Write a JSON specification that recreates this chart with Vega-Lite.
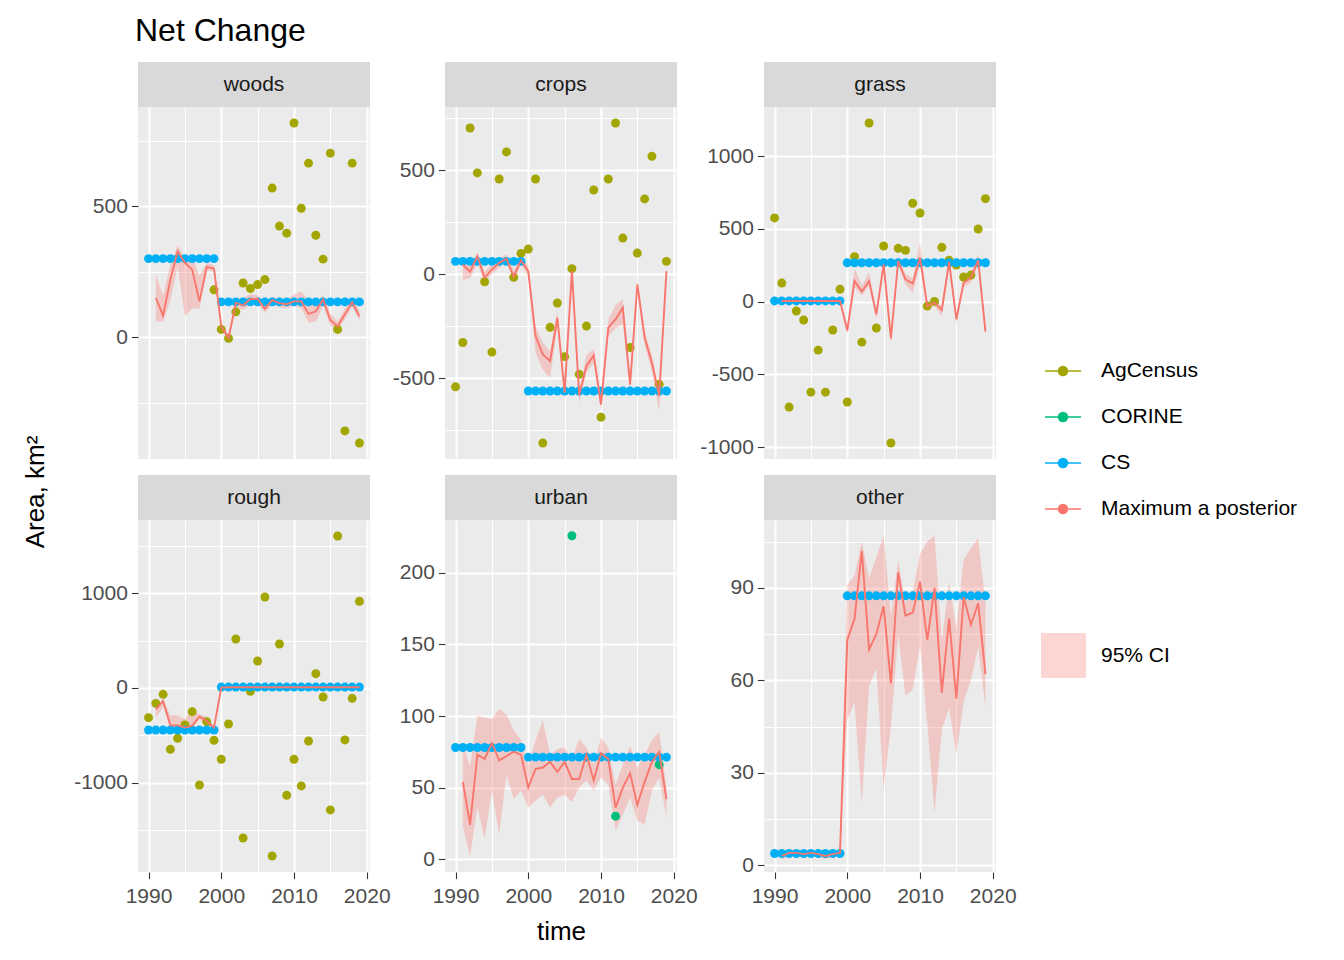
{
"$schema": "https://vega.github.io/schema/vega-lite/v6.json",
"background": "white",
"padding": {"left": 5, "top": 15, "right": 5, "bottom": 5},
"title": {"text": "Net Change", "anchor": "start", "frame": "group", "fontSize": 32, "fontWeight": "normal", "font": "Liberation Sans", "color": "#000000", "dx": 130, "offset": 14},
"data": {"values": [
{"panel":"woods","source":"AgCensus","time":1999,"value":181},
{"panel":"woods","source":"AgCensus","time":2000,"value":30},
{"panel":"woods","source":"AgCensus","time":2001,"value":-4},
{"panel":"woods","source":"AgCensus","time":2002,"value":97},
{"panel":"woods","source":"AgCensus","time":2003,"value":207},
{"panel":"woods","source":"AgCensus","time":2004,"value":186},
{"panel":"woods","source":"AgCensus","time":2005,"value":201},
{"panel":"woods","source":"AgCensus","time":2006,"value":220},
{"panel":"woods","source":"AgCensus","time":2007,"value":569},
{"panel":"woods","source":"AgCensus","time":2008,"value":424},
{"panel":"woods","source":"AgCensus","time":2009,"value":397},
{"panel":"woods","source":"AgCensus","time":2010,"value":817},
{"panel":"woods","source":"AgCensus","time":2011,"value":492},
{"panel":"woods","source":"AgCensus","time":2012,"value":664},
{"panel":"woods","source":"AgCensus","time":2013,"value":389},
{"panel":"woods","source":"AgCensus","time":2014,"value":298},
{"panel":"woods","source":"AgCensus","time":2015,"value":702},
{"panel":"woods","source":"AgCensus","time":2016,"value":30},
{"panel":"woods","source":"AgCensus","time":2017,"value":-357},
{"panel":"woods","source":"AgCensus","time":2018,"value":664},
{"panel":"woods","source":"AgCensus","time":2019,"value":-403},
{"panel":"woods","source":"CS","time":1990,"value":300},
{"panel":"woods","source":"CS","time":1991,"value":300},
{"panel":"woods","source":"CS","time":1992,"value":300},
{"panel":"woods","source":"CS","time":1993,"value":300},
{"panel":"woods","source":"CS","time":1994,"value":300},
{"panel":"woods","source":"CS","time":1995,"value":300},
{"panel":"woods","source":"CS","time":1996,"value":300},
{"panel":"woods","source":"CS","time":1997,"value":300},
{"panel":"woods","source":"CS","time":1998,"value":300},
{"panel":"woods","source":"CS","time":1999,"value":300},
{"panel":"woods","source":"CS","time":2000,"value":135},
{"panel":"woods","source":"CS","time":2001,"value":135},
{"panel":"woods","source":"CS","time":2002,"value":135},
{"panel":"woods","source":"CS","time":2003,"value":135},
{"panel":"woods","source":"CS","time":2004,"value":135},
{"panel":"woods","source":"CS","time":2005,"value":135},
{"panel":"woods","source":"CS","time":2006,"value":135},
{"panel":"woods","source":"CS","time":2007,"value":135},
{"panel":"woods","source":"CS","time":2008,"value":135},
{"panel":"woods","source":"CS","time":2009,"value":135},
{"panel":"woods","source":"CS","time":2010,"value":135},
{"panel":"woods","source":"CS","time":2011,"value":135},
{"panel":"woods","source":"CS","time":2012,"value":135},
{"panel":"woods","source":"CS","time":2013,"value":135},
{"panel":"woods","source":"CS","time":2014,"value":135},
{"panel":"woods","source":"CS","time":2015,"value":135},
{"panel":"woods","source":"CS","time":2016,"value":135},
{"panel":"woods","source":"CS","time":2017,"value":135},
{"panel":"woods","source":"CS","time":2018,"value":135},
{"panel":"woods","source":"CS","time":2019,"value":135},
{"panel":"woods","source":"Maximum a posterior","time":1991,"value":150,"lo":60,"hi":240},
{"panel":"woods","source":"Maximum a posterior","time":1992,"value":83,"lo":60,"hi":160},
{"panel":"woods","source":"Maximum a posterior","time":1993,"value":220,"lo":140,"hi":275},
{"panel":"woods","source":"Maximum a posterior","time":1994,"value":328,"lo":270,"hi":351},
{"panel":"woods","source":"Maximum a posterior","time":1995,"value":284,"lo":80,"hi":305},
{"panel":"woods","source":"Maximum a posterior","time":1996,"value":258,"lo":110,"hi":305},
{"panel":"woods","source":"Maximum a posterior","time":1997,"value":137,"lo":110,"hi":235},
{"panel":"woods","source":"Maximum a posterior","time":1998,"value":268,"lo":255,"hi":285},
{"panel":"woods","source":"Maximum a posterior","time":1999,"value":262,"lo":250,"hi":275},
{"panel":"woods","source":"Maximum a posterior","time":2000,"value":42,"lo":30,"hi":55},
{"panel":"woods","source":"Maximum a posterior","time":2001,"value":-3,"lo":-10,"hi":10},
{"panel":"woods","source":"Maximum a posterior","time":2002,"value":131,"lo":115,"hi":150},
{"panel":"woods","source":"Maximum a posterior","time":2003,"value":122,"lo":105,"hi":150},
{"panel":"woods","source":"Maximum a posterior","time":2004,"value":146,"lo":125,"hi":165},
{"panel":"woods","source":"Maximum a posterior","time":2005,"value":146,"lo":125,"hi":160},
{"panel":"woods","source":"Maximum a posterior","time":2006,"value":109,"lo":95,"hi":135},
{"panel":"woods","source":"Maximum a posterior","time":2007,"value":142,"lo":125,"hi":155},
{"panel":"woods","source":"Maximum a posterior","time":2008,"value":130,"lo":115,"hi":145},
{"panel":"woods","source":"Maximum a posterior","time":2009,"value":126,"lo":110,"hi":140},
{"panel":"woods","source":"Maximum a posterior","time":2010,"value":137,"lo":120,"hi":165},
{"panel":"woods","source":"Maximum a posterior","time":2011,"value":137,"lo":110,"hi":175},
{"panel":"woods","source":"Maximum a posterior","time":2012,"value":89,"lo":55,"hi":140},
{"panel":"woods","source":"Maximum a posterior","time":2013,"value":99,"lo":60,"hi":130},
{"panel":"woods","source":"Maximum a posterior","time":2014,"value":144,"lo":120,"hi":160},
{"panel":"woods","source":"Maximum a posterior","time":2015,"value":65,"lo":45,"hi":90},
{"panel":"woods","source":"Maximum a posterior","time":2016,"value":42,"lo":30,"hi":60},
{"panel":"woods","source":"Maximum a posterior","time":2017,"value":88,"lo":70,"hi":110},
{"panel":"woods","source":"Maximum a posterior","time":2018,"value":134,"lo":115,"hi":150},
{"panel":"woods","source":"Maximum a posterior","time":2019,"value":80,"lo":65,"hi":100},
{"panel":"crops","source":"AgCensus","time":1990,"value":-542},
{"panel":"crops","source":"AgCensus","time":1991,"value":-329},
{"panel":"crops","source":"AgCensus","time":1992,"value":702},
{"panel":"crops","source":"AgCensus","time":1993,"value":486},
{"panel":"crops","source":"AgCensus","time":1994,"value":-37},
{"panel":"crops","source":"AgCensus","time":1995,"value":-375},
{"panel":"crops","source":"AgCensus","time":1996,"value":457},
{"panel":"crops","source":"AgCensus","time":1997,"value":587},
{"panel":"crops","source":"AgCensus","time":1998,"value":-16},
{"panel":"crops","source":"AgCensus","time":1999,"value":99},
{"panel":"crops","source":"AgCensus","time":2000,"value":120},
{"panel":"crops","source":"AgCensus","time":2001,"value":457},
{"panel":"crops","source":"AgCensus","time":2002,"value":-812},
{"panel":"crops","source":"AgCensus","time":2003,"value":-256},
{"panel":"crops","source":"AgCensus","time":2004,"value":-139},
{"panel":"crops","source":"AgCensus","time":2005,"value":-397},
{"panel":"crops","source":"AgCensus","time":2006,"value":26},
{"panel":"crops","source":"AgCensus","time":2007,"value":-482},
{"panel":"crops","source":"AgCensus","time":2008,"value":-250},
{"panel":"crops","source":"AgCensus","time":2009,"value":404},
{"panel":"crops","source":"AgCensus","time":2010,"value":-688},
{"panel":"crops","source":"AgCensus","time":2011,"value":457},
{"panel":"crops","source":"AgCensus","time":2012,"value":726},
{"panel":"crops","source":"AgCensus","time":2013,"value":173},
{"panel":"crops","source":"AgCensus","time":2014,"value":-353},
{"panel":"crops","source":"AgCensus","time":2015,"value":101},
{"panel":"crops","source":"AgCensus","time":2016,"value":361},
{"panel":"crops","source":"AgCensus","time":2017,"value":566},
{"panel":"crops","source":"AgCensus","time":2018,"value":-530},
{"panel":"crops","source":"AgCensus","time":2019,"value":61},
{"panel":"crops","source":"CS","time":1990,"value":61},
{"panel":"crops","source":"CS","time":1991,"value":61},
{"panel":"crops","source":"CS","time":1992,"value":61},
{"panel":"crops","source":"CS","time":1993,"value":61},
{"panel":"crops","source":"CS","time":1994,"value":61},
{"panel":"crops","source":"CS","time":1995,"value":61},
{"panel":"crops","source":"CS","time":1996,"value":61},
{"panel":"crops","source":"CS","time":1997,"value":61},
{"panel":"crops","source":"CS","time":1998,"value":61},
{"panel":"crops","source":"CS","time":1999,"value":61},
{"panel":"crops","source":"CS","time":2000,"value":-562},
{"panel":"crops","source":"CS","time":2001,"value":-562},
{"panel":"crops","source":"CS","time":2002,"value":-562},
{"panel":"crops","source":"CS","time":2003,"value":-562},
{"panel":"crops","source":"CS","time":2004,"value":-562},
{"panel":"crops","source":"CS","time":2005,"value":-562},
{"panel":"crops","source":"CS","time":2006,"value":-562},
{"panel":"crops","source":"CS","time":2007,"value":-562},
{"panel":"crops","source":"CS","time":2008,"value":-562},
{"panel":"crops","source":"CS","time":2009,"value":-562},
{"panel":"crops","source":"CS","time":2010,"value":-562},
{"panel":"crops","source":"CS","time":2011,"value":-562},
{"panel":"crops","source":"CS","time":2012,"value":-562},
{"panel":"crops","source":"CS","time":2013,"value":-562},
{"panel":"crops","source":"CS","time":2014,"value":-562},
{"panel":"crops","source":"CS","time":2015,"value":-562},
{"panel":"crops","source":"CS","time":2016,"value":-562},
{"panel":"crops","source":"CS","time":2017,"value":-562},
{"panel":"crops","source":"CS","time":2018,"value":-562},
{"panel":"crops","source":"CS","time":2019,"value":-562},
{"panel":"crops","source":"Maximum a posterior","time":1991,"value":46,"lo":-30,"hi":65},
{"panel":"crops","source":"Maximum a posterior","time":1992,"value":11,"lo":-20,"hi":40},
{"panel":"crops","source":"Maximum a posterior","time":1993,"value":87,"lo":50,"hi":95},
{"panel":"crops","source":"Maximum a posterior","time":1994,"value":-18,"lo":-40,"hi":10},
{"panel":"crops","source":"Maximum a posterior","time":1995,"value":22,"lo":0,"hi":50},
{"panel":"crops","source":"Maximum a posterior","time":1996,"value":54,"lo":30,"hi":75},
{"panel":"crops","source":"Maximum a posterior","time":1997,"value":74,"lo":55,"hi":95},
{"panel":"crops","source":"Maximum a posterior","time":1998,"value":-13,"lo":-30,"hi":20},
{"panel":"crops","source":"Maximum a posterior","time":1999,"value":67,"lo":45,"hi":85},
{"panel":"crops","source":"Maximum a posterior","time":2000,"value":14,"lo":-10,"hi":40},
{"panel":"crops","source":"Maximum a posterior","time":2001,"value":-298,"lo":-380,"hi":-250},
{"panel":"crops","source":"Maximum a posterior","time":2002,"value":-386,"lo":-460,"hi":-330},
{"panel":"crops","source":"Maximum a posterior","time":2003,"value":-418,"lo":-500,"hi":-370},
{"panel":"crops","source":"Maximum a posterior","time":2004,"value":-210,"lo":-250,"hi":-180},
{"panel":"crops","source":"Maximum a posterior","time":2005,"value":-570,"lo":-600,"hi":-540},
{"panel":"crops","source":"Maximum a posterior","time":2006,"value":14,"lo":-10,"hi":30},
{"panel":"crops","source":"Maximum a posterior","time":2007,"value":-583,"lo":-620,"hi":-560},
{"panel":"crops","source":"Maximum a posterior","time":2008,"value":-442,"lo":-470,"hi":-390},
{"panel":"crops","source":"Maximum a posterior","time":2009,"value":-391,"lo":-430,"hi":-360},
{"panel":"crops","source":"Maximum a posterior","time":2010,"value":-627,"lo":-660,"hi":-600},
{"panel":"crops","source":"Maximum a posterior","time":2011,"value":-258,"lo":-300,"hi":-220},
{"panel":"crops","source":"Maximum a posterior","time":2012,"value":-218,"lo":-260,"hi":-150},
{"panel":"crops","source":"Maximum a posterior","time":2013,"value":-162,"lo":-240,"hi":-120},
{"panel":"crops","source":"Maximum a posterior","time":2014,"value":-530,"lo":-560,"hi":-500},
{"panel":"crops","source":"Maximum a posterior","time":2015,"value":-50,"lo":-80,"hi":-30},
{"panel":"crops","source":"Maximum a posterior","time":2016,"value":-306,"lo":-340,"hi":-270},
{"panel":"crops","source":"Maximum a posterior","time":2017,"value":-426,"lo":-470,"hi":-390},
{"panel":"crops","source":"Maximum a posterior","time":2018,"value":-587,"lo":-660,"hi":-560},
{"panel":"crops","source":"Maximum a posterior","time":2019,"value":14,"lo":-10,"hi":40},
{"panel":"grass","source":"AgCensus","time":1990,"value":576},
{"panel":"grass","source":"AgCensus","time":1991,"value":128},
{"panel":"grass","source":"AgCensus","time":1992,"value":-725},
{"panel":"grass","source":"AgCensus","time":1993,"value":-64},
{"panel":"grass","source":"AgCensus","time":1994,"value":-126},
{"panel":"grass","source":"AgCensus","time":1995,"value":-622},
{"panel":"grass","source":"AgCensus","time":1996,"value":-333},
{"panel":"grass","source":"AgCensus","time":1997,"value":-622},
{"panel":"grass","source":"AgCensus","time":1998,"value":-195},
{"panel":"grass","source":"AgCensus","time":1999,"value":85},
{"panel":"grass","source":"AgCensus","time":2000,"value":-690},
{"panel":"grass","source":"AgCensus","time":2001,"value":310},
{"panel":"grass","source":"AgCensus","time":2002,"value":-278},
{"panel":"grass","source":"AgCensus","time":2003,"value":1229},
{"panel":"grass","source":"AgCensus","time":2004,"value":-181},
{"panel":"grass","source":"AgCensus","time":2005,"value":383},
{"panel":"grass","source":"AgCensus","time":2006,"value":-972},
{"panel":"grass","source":"AgCensus","time":2007,"value":367},
{"panel":"grass","source":"AgCensus","time":2008,"value":353},
{"panel":"grass","source":"AgCensus","time":2009,"value":677},
{"panel":"grass","source":"AgCensus","time":2010,"value":610},
{"panel":"grass","source":"AgCensus","time":2011,"value":-30},
{"panel":"grass","source":"AgCensus","time":2012,"value":2},
{"panel":"grass","source":"AgCensus","time":2013,"value":374},
{"panel":"grass","source":"AgCensus","time":2014,"value":285},
{"panel":"grass","source":"AgCensus","time":2015,"value":252},
{"panel":"grass","source":"AgCensus","time":2016,"value":170},
{"panel":"grass","source":"AgCensus","time":2017,"value":183},
{"panel":"grass","source":"AgCensus","time":2018,"value":500},
{"panel":"grass","source":"AgCensus","time":2019,"value":709},
{"panel":"grass","source":"CS","time":1990,"value":5},
{"panel":"grass","source":"CS","time":1991,"value":5},
{"panel":"grass","source":"CS","time":1992,"value":5},
{"panel":"grass","source":"CS","time":1993,"value":5},
{"panel":"grass","source":"CS","time":1994,"value":5},
{"panel":"grass","source":"CS","time":1995,"value":5},
{"panel":"grass","source":"CS","time":1996,"value":5},
{"panel":"grass","source":"CS","time":1997,"value":5},
{"panel":"grass","source":"CS","time":1998,"value":5},
{"panel":"grass","source":"CS","time":1999,"value":5},
{"panel":"grass","source":"CS","time":2000,"value":268},
{"panel":"grass","source":"CS","time":2001,"value":268},
{"panel":"grass","source":"CS","time":2002,"value":268},
{"panel":"grass","source":"CS","time":2003,"value":268},
{"panel":"grass","source":"CS","time":2004,"value":268},
{"panel":"grass","source":"CS","time":2005,"value":268},
{"panel":"grass","source":"CS","time":2006,"value":268},
{"panel":"grass","source":"CS","time":2007,"value":268},
{"panel":"grass","source":"CS","time":2008,"value":268},
{"panel":"grass","source":"CS","time":2009,"value":268},
{"panel":"grass","source":"CS","time":2010,"value":268},
{"panel":"grass","source":"CS","time":2011,"value":268},
{"panel":"grass","source":"CS","time":2012,"value":268},
{"panel":"grass","source":"CS","time":2013,"value":268},
{"panel":"grass","source":"CS","time":2014,"value":268},
{"panel":"grass","source":"CS","time":2015,"value":268},
{"panel":"grass","source":"CS","time":2016,"value":268},
{"panel":"grass","source":"CS","time":2017,"value":268},
{"panel":"grass","source":"CS","time":2018,"value":268},
{"panel":"grass","source":"CS","time":2019,"value":268},
{"panel":"grass","source":"Maximum a posterior","time":1991,"value":5,"lo":0,"hi":10},
{"panel":"grass","source":"Maximum a posterior","time":1992,"value":5,"lo":0,"hi":10},
{"panel":"grass","source":"Maximum a posterior","time":1993,"value":5,"lo":0,"hi":10},
{"panel":"grass","source":"Maximum a posterior","time":1994,"value":5,"lo":0,"hi":10},
{"panel":"grass","source":"Maximum a posterior","time":1995,"value":5,"lo":0,"hi":10},
{"panel":"grass","source":"Maximum a posterior","time":1996,"value":5,"lo":0,"hi":10},
{"panel":"grass","source":"Maximum a posterior","time":1997,"value":5,"lo":0,"hi":10},
{"panel":"grass","source":"Maximum a posterior","time":1998,"value":5,"lo":0,"hi":10},
{"panel":"grass","source":"Maximum a posterior","time":1999,"value":5,"lo":0,"hi":10},
{"panel":"grass","source":"Maximum a posterior","time":2000,"value":-197,"lo":-230,"hi":-160},
{"panel":"grass","source":"Maximum a posterior","time":2001,"value":142,"lo":100,"hi":230},
{"panel":"grass","source":"Maximum a posterior","time":2002,"value":69,"lo":40,"hi":110},
{"panel":"grass","source":"Maximum a posterior","time":2003,"value":142,"lo":110,"hi":200},
{"panel":"grass","source":"Maximum a posterior","time":2004,"value":-87,"lo":-120,"hi":-50},
{"panel":"grass","source":"Maximum a posterior","time":2005,"value":257,"lo":230,"hi":280},
{"panel":"grass","source":"Maximum a posterior","time":2006,"value":-252,"lo":-290,"hi":-220},
{"panel":"grass","source":"Maximum a posterior","time":2007,"value":280,"lo":250,"hi":310},
{"panel":"grass","source":"Maximum a posterior","time":2008,"value":154,"lo":120,"hi":190},
{"panel":"grass","source":"Maximum a posterior","time":2009,"value":124,"lo":60,"hi":160},
{"panel":"grass","source":"Maximum a posterior","time":2010,"value":303,"lo":250,"hi":410},
{"panel":"grass","source":"Maximum a posterior","time":2011,"value":-30,"lo":-50,"hi":0},
{"panel":"grass","source":"Maximum a posterior","time":2012,"value":-7,"lo":-30,"hi":10},
{"panel":"grass","source":"Maximum a posterior","time":2013,"value":-57,"lo":-100,"hi":-30},
{"panel":"grass","source":"Maximum a posterior","time":2014,"value":273,"lo":240,"hi":300},
{"panel":"grass","source":"Maximum a posterior","time":2015,"value":-122,"lo":-150,"hi":-90},
{"panel":"grass","source":"Maximum a posterior","time":2016,"value":131,"lo":100,"hi":160},
{"panel":"grass","source":"Maximum a posterior","time":2017,"value":165,"lo":130,"hi":200},
{"panel":"grass","source":"Maximum a posterior","time":2018,"value":284,"lo":250,"hi":330},
{"panel":"grass","source":"Maximum a posterior","time":2019,"value":-206,"lo":-230,"hi":-180},
{"panel":"rough","source":"AgCensus","time":1990,"value":-313},
{"panel":"rough","source":"AgCensus","time":1991,"value":-162},
{"panel":"rough","source":"AgCensus","time":1992,"value":-67},
{"panel":"rough","source":"AgCensus","time":1993,"value":-647},
{"panel":"rough","source":"AgCensus","time":1994,"value":-531},
{"panel":"rough","source":"AgCensus","time":1995,"value":-390},
{"panel":"rough","source":"AgCensus","time":1996,"value":-250},
{"panel":"rough","source":"AgCensus","time":1997,"value":-1023},
{"panel":"rough","source":"AgCensus","time":1998,"value":-355},
{"panel":"rough","source":"AgCensus","time":1999,"value":-552},
{"panel":"rough","source":"AgCensus","time":2000,"value":-752},
{"panel":"rough","source":"AgCensus","time":2001,"value":-380},
{"panel":"rough","source":"AgCensus","time":2002,"value":517},
{"panel":"rough","source":"AgCensus","time":2003,"value":-1582},
{"panel":"rough","source":"AgCensus","time":2004,"value":-35},
{"panel":"rough","source":"AgCensus","time":2005,"value":285},
{"panel":"rough","source":"AgCensus","time":2006,"value":960},
{"panel":"rough","source":"AgCensus","time":2007,"value":-1772},
{"panel":"rough","source":"AgCensus","time":2008,"value":464},
{"panel":"rough","source":"AgCensus","time":2009,"value":-1132},
{"panel":"rough","source":"AgCensus","time":2010,"value":-752},
{"panel":"rough","source":"AgCensus","time":2011,"value":-1033},
{"panel":"rough","source":"AgCensus","time":2012,"value":-559},
{"panel":"rough","source":"AgCensus","time":2013,"value":151},
{"panel":"rough","source":"AgCensus","time":2014,"value":-95},
{"panel":"rough","source":"AgCensus","time":2015,"value":-1286},
{"panel":"rough","source":"AgCensus","time":2016,"value":1603},
{"panel":"rough","source":"AgCensus","time":2017,"value":-548},
{"panel":"rough","source":"AgCensus","time":2018,"value":-109},
{"panel":"rough","source":"AgCensus","time":2019,"value":914},
{"panel":"rough","source":"CS","time":1990,"value":-443},
{"panel":"rough","source":"CS","time":1991,"value":-443},
{"panel":"rough","source":"CS","time":1992,"value":-443},
{"panel":"rough","source":"CS","time":1993,"value":-443},
{"panel":"rough","source":"CS","time":1994,"value":-443},
{"panel":"rough","source":"CS","time":1995,"value":-443},
{"panel":"rough","source":"CS","time":1996,"value":-443},
{"panel":"rough","source":"CS","time":1997,"value":-443},
{"panel":"rough","source":"CS","time":1998,"value":-443},
{"panel":"rough","source":"CS","time":1999,"value":-443},
{"panel":"rough","source":"CS","time":2000,"value":10},
{"panel":"rough","source":"CS","time":2001,"value":10},
{"panel":"rough","source":"CS","time":2002,"value":10},
{"panel":"rough","source":"CS","time":2003,"value":10},
{"panel":"rough","source":"CS","time":2004,"value":10},
{"panel":"rough","source":"CS","time":2005,"value":10},
{"panel":"rough","source":"CS","time":2006,"value":10},
{"panel":"rough","source":"CS","time":2007,"value":10},
{"panel":"rough","source":"CS","time":2008,"value":10},
{"panel":"rough","source":"CS","time":2009,"value":10},
{"panel":"rough","source":"CS","time":2010,"value":10},
{"panel":"rough","source":"CS","time":2011,"value":10},
{"panel":"rough","source":"CS","time":2012,"value":10},
{"panel":"rough","source":"CS","time":2013,"value":10},
{"panel":"rough","source":"CS","time":2014,"value":10},
{"panel":"rough","source":"CS","time":2015,"value":10},
{"panel":"rough","source":"CS","time":2016,"value":10},
{"panel":"rough","source":"CS","time":2017,"value":10},
{"panel":"rough","source":"CS","time":2018,"value":10},
{"panel":"rough","source":"CS","time":2019,"value":10},
{"panel":"rough","source":"Maximum a posterior","time":1991,"value":-225,"lo":-320,"hi":-190},
{"panel":"rough","source":"Maximum a posterior","time":1992,"value":-137,"lo":-200,"hi":-120},
{"panel":"rough","source":"Maximum a posterior","time":1993,"value":-394,"lo":-420,"hi":-285},
{"panel":"rough","source":"Maximum a posterior","time":1994,"value":-394,"lo":-420,"hi":-290},
{"panel":"rough","source":"Maximum a posterior","time":1995,"value":-418,"lo":-440,"hi":-330},
{"panel":"rough","source":"Maximum a posterior","time":1996,"value":-400,"lo":-420,"hi":-220},
{"panel":"rough","source":"Maximum a posterior","time":1997,"value":-302,"lo":-330,"hi":-280},
{"panel":"rough","source":"Maximum a posterior","time":1998,"value":-348,"lo":-400,"hi":-300},
{"panel":"rough","source":"Maximum a posterior","time":1999,"value":-418,"lo":-440,"hi":-400},
{"panel":"rough","source":"Maximum a posterior","time":2000,"value":4,"lo":-5,"hi":15},
{"panel":"rough","source":"Maximum a posterior","time":2001,"value":8,"lo":0,"hi":16},
{"panel":"rough","source":"Maximum a posterior","time":2002,"value":8,"lo":0,"hi":16},
{"panel":"rough","source":"Maximum a posterior","time":2003,"value":8,"lo":0,"hi":16},
{"panel":"rough","source":"Maximum a posterior","time":2004,"value":8,"lo":0,"hi":16},
{"panel":"rough","source":"Maximum a posterior","time":2005,"value":8,"lo":0,"hi":16},
{"panel":"rough","source":"Maximum a posterior","time":2006,"value":8,"lo":0,"hi":16},
{"panel":"rough","source":"Maximum a posterior","time":2007,"value":8,"lo":0,"hi":16},
{"panel":"rough","source":"Maximum a posterior","time":2008,"value":8,"lo":0,"hi":16},
{"panel":"rough","source":"Maximum a posterior","time":2009,"value":8,"lo":0,"hi":16},
{"panel":"rough","source":"Maximum a posterior","time":2010,"value":8,"lo":0,"hi":16},
{"panel":"rough","source":"Maximum a posterior","time":2011,"value":8,"lo":0,"hi":16},
{"panel":"rough","source":"Maximum a posterior","time":2012,"value":8,"lo":0,"hi":16},
{"panel":"rough","source":"Maximum a posterior","time":2013,"value":8,"lo":0,"hi":16},
{"panel":"rough","source":"Maximum a posterior","time":2014,"value":8,"lo":0,"hi":16},
{"panel":"rough","source":"Maximum a posterior","time":2015,"value":8,"lo":0,"hi":16},
{"panel":"rough","source":"Maximum a posterior","time":2016,"value":8,"lo":0,"hi":16},
{"panel":"rough","source":"Maximum a posterior","time":2017,"value":8,"lo":0,"hi":16},
{"panel":"rough","source":"Maximum a posterior","time":2018,"value":8,"lo":0,"hi":16},
{"panel":"rough","source":"Maximum a posterior","time":2019,"value":8,"lo":0,"hi":16},
{"panel":"urban","source":"CORINE","time":2006,"value":226},
{"panel":"urban","source":"CORINE","time":2012,"value":30},
{"panel":"urban","source":"CORINE","time":2018,"value":66},
{"panel":"urban","source":"CS","time":1990,"value":78},
{"panel":"urban","source":"CS","time":1991,"value":78},
{"panel":"urban","source":"CS","time":1992,"value":78},
{"panel":"urban","source":"CS","time":1993,"value":78},
{"panel":"urban","source":"CS","time":1994,"value":78},
{"panel":"urban","source":"CS","time":1995,"value":78},
{"panel":"urban","source":"CS","time":1996,"value":78},
{"panel":"urban","source":"CS","time":1997,"value":78},
{"panel":"urban","source":"CS","time":1998,"value":78},
{"panel":"urban","source":"CS","time":1999,"value":78},
{"panel":"urban","source":"CS","time":2000,"value":71.3},
{"panel":"urban","source":"CS","time":2001,"value":71.3},
{"panel":"urban","source":"CS","time":2002,"value":71.3},
{"panel":"urban","source":"CS","time":2003,"value":71.3},
{"panel":"urban","source":"CS","time":2004,"value":71.3},
{"panel":"urban","source":"CS","time":2005,"value":71.3},
{"panel":"urban","source":"CS","time":2006,"value":71.3},
{"panel":"urban","source":"CS","time":2007,"value":71.3},
{"panel":"urban","source":"CS","time":2008,"value":71.3},
{"panel":"urban","source":"CS","time":2009,"value":71.3},
{"panel":"urban","source":"CS","time":2010,"value":71.3},
{"panel":"urban","source":"CS","time":2011,"value":71.3},
{"panel":"urban","source":"CS","time":2012,"value":71.3},
{"panel":"urban","source":"CS","time":2013,"value":71.3},
{"panel":"urban","source":"CS","time":2014,"value":71.3},
{"panel":"urban","source":"CS","time":2015,"value":71.3},
{"panel":"urban","source":"CS","time":2016,"value":71.3},
{"panel":"urban","source":"CS","time":2017,"value":71.3},
{"panel":"urban","source":"CS","time":2018,"value":71.3},
{"panel":"urban","source":"CS","time":2019,"value":71.3},
{"panel":"urban","source":"Maximum a posterior","time":1991,"value":54,"lo":23,"hi":80},
{"panel":"urban","source":"Maximum a posterior","time":1992,"value":24,"lo":2,"hi":65},
{"panel":"urban","source":"Maximum a posterior","time":1993,"value":73,"lo":36,"hi":100},
{"panel":"urban","source":"Maximum a posterior","time":1994,"value":70,"lo":14,"hi":99},
{"panel":"urban","source":"Maximum a posterior","time":1995,"value":81,"lo":48,"hi":98},
{"panel":"urban","source":"Maximum a posterior","time":1996,"value":69,"lo":17,"hi":105},
{"panel":"urban","source":"Maximum a posterior","time":1997,"value":72,"lo":59,"hi":101},
{"panel":"urban","source":"Maximum a posterior","time":1998,"value":75,"lo":42,"hi":90},
{"panel":"urban","source":"Maximum a posterior","time":1999,"value":73,"lo":48,"hi":83},
{"panel":"urban","source":"Maximum a posterior","time":2000,"value":50,"lo":36,"hi":66},
{"panel":"urban","source":"Maximum a posterior","time":2001,"value":63,"lo":41,"hi":83},
{"panel":"urban","source":"Maximum a posterior","time":2002,"value":64,"lo":45,"hi":97},
{"panel":"urban","source":"Maximum a posterior","time":2003,"value":68,"lo":36,"hi":73},
{"panel":"urban","source":"Maximum a posterior","time":2004,"value":61,"lo":43,"hi":77},
{"panel":"urban","source":"Maximum a posterior","time":2005,"value":68,"lo":45,"hi":78},
{"panel":"urban","source":"Maximum a posterior","time":2006,"value":56,"lo":40,"hi":70},
{"panel":"urban","source":"Maximum a posterior","time":2007,"value":56,"lo":50,"hi":84},
{"panel":"urban","source":"Maximum a posterior","time":2008,"value":73,"lo":55,"hi":78},
{"panel":"urban","source":"Maximum a posterior","time":2009,"value":55,"lo":48,"hi":66},
{"panel":"urban","source":"Maximum a posterior","time":2010,"value":74,"lo":57,"hi":85},
{"panel":"urban","source":"Maximum a posterior","time":2011,"value":70,"lo":52,"hi":78},
{"panel":"urban","source":"Maximum a posterior","time":2012,"value":36,"lo":20,"hi":52},
{"panel":"urban","source":"Maximum a posterior","time":2013,"value":50,"lo":31,"hi":66},
{"panel":"urban","source":"Maximum a posterior","time":2014,"value":60,"lo":43,"hi":79},
{"panel":"urban","source":"Maximum a posterior","time":2015,"value":38,"lo":27,"hi":64},
{"panel":"urban","source":"Maximum a posterior","time":2016,"value":54,"lo":24,"hi":73},
{"panel":"urban","source":"Maximum a posterior","time":2017,"value":68,"lo":48,"hi":83},
{"panel":"urban","source":"Maximum a posterior","time":2018,"value":75,"lo":57,"hi":89},
{"panel":"urban","source":"Maximum a posterior","time":2019,"value":42,"lo":29,"hi":50},
{"panel":"other","source":"CS","time":1990,"value":3.8},
{"panel":"other","source":"CS","time":1991,"value":3.8},
{"panel":"other","source":"CS","time":1992,"value":3.8},
{"panel":"other","source":"CS","time":1993,"value":3.8},
{"panel":"other","source":"CS","time":1994,"value":3.8},
{"panel":"other","source":"CS","time":1995,"value":3.8},
{"panel":"other","source":"CS","time":1996,"value":3.8},
{"panel":"other","source":"CS","time":1997,"value":3.8},
{"panel":"other","source":"CS","time":1998,"value":3.8},
{"panel":"other","source":"CS","time":1999,"value":3.8},
{"panel":"other","source":"CS","time":2000,"value":87.4},
{"panel":"other","source":"CS","time":2001,"value":87.4},
{"panel":"other","source":"CS","time":2002,"value":87.4},
{"panel":"other","source":"CS","time":2003,"value":87.4},
{"panel":"other","source":"CS","time":2004,"value":87.4},
{"panel":"other","source":"CS","time":2005,"value":87.4},
{"panel":"other","source":"CS","time":2006,"value":87.4},
{"panel":"other","source":"CS","time":2007,"value":87.4},
{"panel":"other","source":"CS","time":2008,"value":87.4},
{"panel":"other","source":"CS","time":2009,"value":87.4},
{"panel":"other","source":"CS","time":2010,"value":87.4},
{"panel":"other","source":"CS","time":2011,"value":87.4},
{"panel":"other","source":"CS","time":2012,"value":87.4},
{"panel":"other","source":"CS","time":2013,"value":87.4},
{"panel":"other","source":"CS","time":2014,"value":87.4},
{"panel":"other","source":"CS","time":2015,"value":87.4},
{"panel":"other","source":"CS","time":2016,"value":87.4},
{"panel":"other","source":"CS","time":2017,"value":87.4},
{"panel":"other","source":"CS","time":2018,"value":87.4},
{"panel":"other","source":"CS","time":2019,"value":87.4},
{"panel":"other","source":"Maximum a posterior","time":1991,"value":3,"lo":2,"hi":4},
{"panel":"other","source":"Maximum a posterior","time":1992,"value":4,"lo":3,"hi":5},
{"panel":"other","source":"Maximum a posterior","time":1993,"value":4,"lo":3,"hi":5},
{"panel":"other","source":"Maximum a posterior","time":1994,"value":3.6,"lo":2.6,"hi":4.6},
{"panel":"other","source":"Maximum a posterior","time":1995,"value":4,"lo":3,"hi":5},
{"panel":"other","source":"Maximum a posterior","time":1996,"value":3.6,"lo":2.6,"hi":4.6},
{"panel":"other","source":"Maximum a posterior","time":1997,"value":3,"lo":2,"hi":4},
{"panel":"other","source":"Maximum a posterior","time":1998,"value":3.6,"lo":2.6,"hi":4.6},
{"panel":"other","source":"Maximum a posterior","time":1999,"value":4,"lo":3,"hi":5},
{"panel":"other","source":"Maximum a posterior","time":2000,"value":73,"lo":47,"hi":91},
{"panel":"other","source":"Maximum a posterior","time":2001,"value":80,"lo":53,"hi":94},
{"panel":"other","source":"Maximum a posterior","time":2002,"value":102,"lo":20,"hi":105},
{"panel":"other","source":"Maximum a posterior","time":2003,"value":70,"lo":58,"hi":93},
{"panel":"other","source":"Maximum a posterior","time":2004,"value":75,"lo":64,"hi":100},
{"panel":"other","source":"Maximum a posterior","time":2005,"value":84,"lo":25,"hi":107},
{"panel":"other","source":"Maximum a posterior","time":2006,"value":59,"lo":45,"hi":81},
{"panel":"other","source":"Maximum a posterior","time":2007,"value":95,"lo":75,"hi":99},
{"panel":"other","source":"Maximum a posterior","time":2008,"value":81,"lo":55,"hi":85},
{"panel":"other","source":"Maximum a posterior","time":2009,"value":82,"lo":57,"hi":89},
{"panel":"other","source":"Maximum a posterior","time":2010,"value":92,"lo":71,"hi":101},
{"panel":"other","source":"Maximum a posterior","time":2011,"value":73,"lo":46,"hi":105},
{"panel":"other","source":"Maximum a posterior","time":2012,"value":90,"lo":17,"hi":107},
{"panel":"other","source":"Maximum a posterior","time":2013,"value":56,"lo":44,"hi":73},
{"panel":"other","source":"Maximum a posterior","time":2014,"value":80,"lo":51,"hi":92},
{"panel":"other","source":"Maximum a posterior","time":2015,"value":54,"lo":36,"hi":77},
{"panel":"other","source":"Maximum a posterior","time":2016,"value":87,"lo":53,"hi":99},
{"panel":"other","source":"Maximum a posterior","time":2017,"value":78,"lo":60,"hi":103},
{"panel":"other","source":"Maximum a posterior","time":2018,"value":85,"lo":71,"hi":106},
{"panel":"other","source":"Maximum a posterior","time":2019,"value":62,"lo":51,"hi":85}
]},
"spacing": 6,
"hconcat": [
{
"width": 62, "height": 860,
"view": {"fill": "white", "stroke": null},
"transform": [{"aggregate": [{"op": "count", "as": "n"}]}],
"mark": {"type": "text", "text": "Area,  km²", "angle": 270, "fontSize": 26, "font": "Liberation Sans", "color": "#000000", "align": "center", "baseline": "middle"},
"encoding": {}
},
{
"columns": 3,
"align": "each",
"spacing": {"row": 16, "column": 1},
"concat": [
{"spacing": 0, "vconcat": [
 {"width": 232, "height": 45, "view": {"fill": "#d9d9d9", "stroke": null},
  "transform": [{"filter": "datum.panel === 'woods'"}, {"aggregate": [{"op": "count", "as": "n"}], "groupby": ["panel"]}],
  "mark": {"type": "text", "fontSize": 21, "font": "Liberation Sans", "color": "#1a1a1a", "align": "center", "baseline": "middle"},
  "encoding": {"text": {"field": "panel", "type": "nominal"}}},
 {"width": 232, "height": 352,
  "transform": [{"filter": "datum.panel === 'woods'"}],
  "encoding": {"x": {"field": "time", "type": "quantitative", "scale": {"domain": [1988.55, 2020.45], "nice": false, "zero": false},
    "axis": {"title": null, "values": [1990,1995,2000,2005,2010,2015,2020], "labels": false, "ticks": false, "gridWidth": {"condition": {"test": "datum.value % 10 === 0", "value": 2}, "value": 1}}}},
  "layer": [
   {"transform": [{"filter": "datum.source === 'Maximum a posterior'"}],
    "mark": {"type": "area", "opacity": 0.3},
    "encoding": {
     "y": {"field": "lo", "type": "quantitative", "scale": {"domain": [-464, 878], "nice": false, "zero": false},
       "axis": {"title": null, "values": [-250,0,250,500,750], "labelOverlap": false, "labelExpr": "datum.value % 500 === 0 ? '' + datum.value : ''", "tickOpacity": {"condition": {"test": "datum.value % 500 === 0", "value": 1}, "value": 0}, "gridWidth": {"condition": {"test": "datum.value % 500 === 0", "value": 2}, "value": 1}}},
     "y2": {"field": "hi"},
     "fill": {"datum": "95% CI", "type": "nominal", "scale": {"range": ["#F8766D"]},
       "legend": {"title": null, "orient": "none", "legendX": 1036, "legendY": 571, "symbolType": "square", "symbolSize": 2025, "symbolOpacity": 0.3, "symbolStrokeWidth": 0, "labelFontSize": 21, "labelFont": "Liberation Sans", "labelColor": "#000000", "labelOffset": 15}}}},
   {"transform": [{"filter": "datum.source !== 'Maximum a posterior'"}],
    "mark": {"type": "point", "filled": true, "size": 80, "opacity": 1},
    "encoding": {"y": {"field": "value", "type": "quantitative", "title": null},
     "color": {"field": "source", "type": "nominal",
       "scale": {"domain": ["AgCensus", "CORINE", "CS", "Maximum a posterior"], "range": ["#A3A500", "#00BF7D", "#00B0F6", "#F8766D"]},
       "legend": {"title": null, "orient": "none", "legendX": 1039, "legendY": 290, "labelLimit": 400, "symbolType": "M-1,0L1,0M-0.25,0A0.25,0.25,0,1,0,0.25,0A0.25,0.25,0,1,0,-0.25,0Z", "symbolSize": 1296, "symbolStrokeWidth": 1.6, "symbolOpacity": 1, "labelFontSize": 21, "labelFont": "Liberation Sans", "labelColor": "#000000", "rowPadding": 17, "labelOffset": 19,
         "encode": {"symbols": {"update": {"fill": {"scale": "color", "field": "value"}, "stroke": {"scale": "color", "field": "value"}}}}}}}},
   {"transform": [{"filter": "datum.source === 'Maximum a posterior'"}],
    "mark": {"type": "line", "strokeWidth": 1.9},
    "encoding": {"y": {"field": "value", "type": "quantitative", "title": null}, "color": {"field": "source", "type": "nominal"}}}
  ]}
]},
{"spacing": 0, "vconcat": [
 {"width": 232, "height": 45, "view": {"fill": "#d9d9d9", "stroke": null},
  "transform": [{"filter": "datum.panel === 'crops'"}, {"aggregate": [{"op": "count", "as": "n"}], "groupby": ["panel"]}],
  "mark": {"type": "text", "fontSize": 21, "font": "Liberation Sans", "color": "#1a1a1a", "align": "center", "baseline": "middle"},
  "encoding": {"text": {"field": "panel", "type": "nominal"}}},
 {"width": 232, "height": 352,
  "transform": [{"filter": "datum.panel === 'crops'"}],
  "encoding": {"x": {"field": "time", "type": "quantitative", "scale": {"domain": [1988.55, 2020.45], "nice": false, "zero": false},
    "axis": {"title": null, "values": [1990,1995,2000,2005,2010,2015,2020], "labels": false, "ticks": false, "gridWidth": {"condition": {"test": "datum.value % 10 === 0", "value": 2}, "value": 1}}}},
  "layer": [
   {"transform": [{"filter": "datum.source === 'Maximum a posterior'"}],
    "mark": {"type": "area", "opacity": 0.3},
    "encoding": {
     "y": {"field": "lo", "type": "quantitative", "scale": {"domain": [-889, 803], "nice": false, "zero": false},
       "axis": {"title": null, "values": [-750,-500,-250,0,250,500,750], "labelOverlap": false, "labelExpr": "datum.value % 500 === 0 ? '' + datum.value : ''", "tickOpacity": {"condition": {"test": "datum.value % 500 === 0", "value": 1}, "value": 0}, "gridWidth": {"condition": {"test": "datum.value % 500 === 0", "value": 2}, "value": 1}}},
     "y2": {"field": "hi"},
     "fill": {"datum": "95% CI", "type": "nominal"}}},
   {"transform": [{"filter": "datum.source !== 'Maximum a posterior'"}],
    "mark": {"type": "point", "filled": true, "size": 80, "opacity": 1},
    "encoding": {"y": {"field": "value", "type": "quantitative", "title": null}, "color": {"field": "source", "type": "nominal"}}},
   {"transform": [{"filter": "datum.source === 'Maximum a posterior'"}],
    "mark": {"type": "line", "strokeWidth": 1.9},
    "encoding": {"y": {"field": "value", "type": "quantitative", "title": null}, "color": {"field": "source", "type": "nominal"}}}
  ]}
]},
{"spacing": 0, "vconcat": [
 {"width": 232, "height": 45, "view": {"fill": "#d9d9d9", "stroke": null},
  "transform": [{"filter": "datum.panel === 'grass'"}, {"aggregate": [{"op": "count", "as": "n"}], "groupby": ["panel"]}],
  "mark": {"type": "text", "fontSize": 21, "font": "Liberation Sans", "color": "#1a1a1a", "align": "center", "baseline": "middle"},
  "encoding": {"text": {"field": "panel", "type": "nominal"}}},
 {"width": 232, "height": 352,
  "transform": [{"filter": "datum.panel === 'grass'"}],
  "encoding": {"x": {"field": "time", "type": "quantitative", "scale": {"domain": [1988.55, 2020.45], "nice": false, "zero": false},
    "axis": {"title": null, "values": [1990,1995,2000,2005,2010,2015,2020], "labels": false, "ticks": false, "gridWidth": {"condition": {"test": "datum.value % 10 === 0", "value": 2}, "value": 1}}}},
  "layer": [
   {"transform": [{"filter": "datum.source === 'Maximum a posterior'"}],
    "mark": {"type": "area", "opacity": 0.3},
    "encoding": {
     "y": {"field": "lo", "type": "quantitative", "scale": {"domain": [-1082, 1339], "nice": false, "zero": false},
       "axis": {"title": null, "values": [-1000,-750,-500,-250,0,250,500,750,1000,1250], "labelOverlap": false, "labelExpr": "datum.value % 500 === 0 ? '' + datum.value : ''", "tickOpacity": {"condition": {"test": "datum.value % 500 === 0", "value": 1}, "value": 0}, "gridWidth": {"condition": {"test": "datum.value % 500 === 0", "value": 2}, "value": 1}}},
     "y2": {"field": "hi"},
     "fill": {"datum": "95% CI", "type": "nominal"}}},
   {"transform": [{"filter": "datum.source !== 'Maximum a posterior'"}],
    "mark": {"type": "point", "filled": true, "size": 80, "opacity": 1},
    "encoding": {"y": {"field": "value", "type": "quantitative", "title": null}, "color": {"field": "source", "type": "nominal"}}},
   {"transform": [{"filter": "datum.source === 'Maximum a posterior'"}],
    "mark": {"type": "line", "strokeWidth": 1.9},
    "encoding": {"y": {"field": "value", "type": "quantitative", "title": null}, "color": {"field": "source", "type": "nominal"}}}
  ]}
]},
{"spacing": 0, "vconcat": [
 {"width": 232, "height": 45, "view": {"fill": "#d9d9d9", "stroke": null},
  "transform": [{"filter": "datum.panel === 'rough'"}, {"aggregate": [{"op": "count", "as": "n"}], "groupby": ["panel"]}],
  "mark": {"type": "text", "fontSize": 21, "font": "Liberation Sans", "color": "#1a1a1a", "align": "center", "baseline": "middle"},
  "encoding": {"text": {"field": "panel", "type": "nominal"}}},
 {"width": 232, "height": 352,
  "transform": [{"filter": "datum.panel === 'rough'"}],
  "encoding": {"x": {"field": "time", "type": "quantitative", "scale": {"domain": [1988.55, 2020.45], "nice": false, "zero": false},
    "axis": {"title": null, "values": [1990,1995,2000,2005,2010,2015,2020], "labelFlush": false, "labelOverlap": false, "labelPadding": 7, "labelExpr": "datum.value % 10 === 0 ? '' + datum.value : ''", "tickOpacity": {"condition": {"test": "datum.value % 10 === 0", "value": 1}, "value": 0}, "gridWidth": {"condition": {"test": "datum.value % 10 === 0", "value": 2}, "value": 1}}}},
  "layer": [
   {"transform": [{"filter": "datum.source === 'Maximum a posterior'"}],
    "mark": {"type": "area", "opacity": 0.3},
    "encoding": {
     "y": {"field": "lo", "type": "quantitative", "scale": {"domain": [-1941, 1772], "nice": false, "zero": false},
       "axis": {"title": null, "values": [-1500,-1000,-500,0,500,1000,1500], "labelOverlap": false, "labelExpr": "datum.value % 1000 === 0 ? '' + datum.value : ''", "tickOpacity": {"condition": {"test": "datum.value % 1000 === 0", "value": 1}, "value": 0}, "gridWidth": {"condition": {"test": "datum.value % 1000 === 0", "value": 2}, "value": 1}}},
     "y2": {"field": "hi"},
     "fill": {"datum": "95% CI", "type": "nominal"}}},
   {"transform": [{"filter": "datum.source !== 'Maximum a posterior'"}],
    "mark": {"type": "point", "filled": true, "size": 80, "opacity": 1},
    "encoding": {"y": {"field": "value", "type": "quantitative", "title": null}, "color": {"field": "source", "type": "nominal"}}},
   {"transform": [{"filter": "datum.source === 'Maximum a posterior'"}],
    "mark": {"type": "line", "strokeWidth": 1.9},
    "encoding": {"y": {"field": "value", "type": "quantitative", "title": null}, "color": {"field": "source", "type": "nominal"}}}
  ]}
]},
{"spacing": 0, "vconcat": [
 {"width": 232, "height": 45, "view": {"fill": "#d9d9d9", "stroke": null},
  "transform": [{"filter": "datum.panel === 'urban'"}, {"aggregate": [{"op": "count", "as": "n"}], "groupby": ["panel"]}],
  "mark": {"type": "text", "fontSize": 21, "font": "Liberation Sans", "color": "#1a1a1a", "align": "center", "baseline": "middle"},
  "encoding": {"text": {"field": "panel", "type": "nominal"}}},
 {"width": 232, "height": 352,
  "transform": [{"filter": "datum.panel === 'urban'"}],
  "encoding": {"x": {"field": "time", "type": "quantitative", "scale": {"domain": [1988.55, 2020.45], "nice": false, "zero": false},
    "axis": {"title": "time", "titlePadding": 12, "values": [1990,1995,2000,2005,2010,2015,2020], "labelFlush": false, "labelOverlap": false, "labelPadding": 7, "labelExpr": "datum.value % 10 === 0 ? '' + datum.value : ''", "tickOpacity": {"condition": {"test": "datum.value % 10 === 0", "value": 1}, "value": 0}, "gridWidth": {"condition": {"test": "datum.value % 10 === 0", "value": 2}, "value": 1}}}},
  "layer": [
   {"transform": [{"filter": "datum.source === 'Maximum a posterior'"}],
    "mark": {"type": "area", "opacity": 0.3},
    "encoding": {
     "y": {"field": "lo", "type": "quantitative", "scale": {"domain": [-9, 237], "nice": false, "zero": false},
       "axis": {"title": null, "values": [0,25,50,75,100,125,150,175,200,225], "labelOverlap": false, "labelExpr": "datum.value % 50 === 0 ? '' + datum.value : ''", "tickOpacity": {"condition": {"test": "datum.value % 50 === 0", "value": 1}, "value": 0}, "gridWidth": {"condition": {"test": "datum.value % 50 === 0", "value": 2}, "value": 1}}},
     "y2": {"field": "hi"},
     "fill": {"datum": "95% CI", "type": "nominal"}}},
   {"transform": [{"filter": "datum.source !== 'Maximum a posterior'"}],
    "mark": {"type": "point", "filled": true, "size": 80, "opacity": 1},
    "encoding": {"y": {"field": "value", "type": "quantitative", "title": null}, "color": {"field": "source", "type": "nominal"}}},
   {"transform": [{"filter": "datum.source === 'Maximum a posterior'"}],
    "mark": {"type": "line", "strokeWidth": 1.9},
    "encoding": {"y": {"field": "value", "type": "quantitative", "title": null}, "color": {"field": "source", "type": "nominal"}}}
  ]}
]},
{"spacing": 0, "vconcat": [
 {"width": 232, "height": 45, "view": {"fill": "#d9d9d9", "stroke": null},
  "transform": [{"filter": "datum.panel === 'other'"}, {"aggregate": [{"op": "count", "as": "n"}], "groupby": ["panel"]}],
  "mark": {"type": "text", "fontSize": 21, "font": "Liberation Sans", "color": "#1a1a1a", "align": "center", "baseline": "middle"},
  "encoding": {"text": {"field": "panel", "type": "nominal"}}},
 {"width": 232, "height": 352,
  "transform": [{"filter": "datum.panel === 'other'"}],
  "encoding": {"x": {"field": "time", "type": "quantitative", "scale": {"domain": [1988.55, 2020.45], "nice": false, "zero": false},
    "axis": {"title": null, "values": [1990,1995,2000,2005,2010,2015,2020], "labelFlush": false, "labelOverlap": false, "labelPadding": 7, "labelExpr": "datum.value % 10 === 0 ? '' + datum.value : ''", "tickOpacity": {"condition": {"test": "datum.value % 10 === 0", "value": 1}, "value": 0}, "gridWidth": {"condition": {"test": "datum.value % 10 === 0", "value": 2}, "value": 1}}}},
  "layer": [
   {"transform": [{"filter": "datum.source === 'Maximum a posterior'"}],
    "mark": {"type": "area", "opacity": 0.3},
    "encoding": {
     "y": {"field": "lo", "type": "quantitative", "scale": {"domain": [-2.2, 112], "nice": false, "zero": false},
       "axis": {"title": null, "values": [0,15,30,45,60,75,90,105], "labelOverlap": false, "labelExpr": "datum.value % 30 === 0 ? '' + datum.value : ''", "tickOpacity": {"condition": {"test": "datum.value % 30 === 0", "value": 1}, "value": 0}, "gridWidth": {"condition": {"test": "datum.value % 30 === 0", "value": 2}, "value": 1}}},
     "y2": {"field": "hi"},
     "fill": {"datum": "95% CI", "type": "nominal"}}},
   {"transform": [{"filter": "datum.source !== 'Maximum a posterior'"}],
    "mark": {"type": "point", "filled": true, "size": 80, "opacity": 1},
    "encoding": {"y": {"field": "value", "type": "quantitative", "title": null}, "color": {"field": "source", "type": "nominal"}}},
   {"transform": [{"filter": "datum.source === 'Maximum a posterior'"}],
    "mark": {"type": "line", "strokeWidth": 1.9},
    "encoding": {"y": {"field": "value", "type": "quantitative", "title": null}, "color": {"field": "source", "type": "nominal"}}}
  ]}
]}
]
}
],
"config": {
 "font": "Liberation Sans",
 "view": {"fill": "#ebebeb", "stroke": null},
 "axis": {"domain": false, "gridColor": "#ffffff", "gridOpacity": 1, "tickColor": "#333333", "tickSize": 6.6, "tickWidth": 1.1, "labelFont": "Liberation Sans", "labelFontSize": 21, "labelColor": "#4d4d4d", "labelPadding": 4, "titleFont": "Liberation Sans", "titleFontSize": 26, "titleFontWeight": "normal", "titleColor": "#000000", "titlePadding": 2}
}
}
